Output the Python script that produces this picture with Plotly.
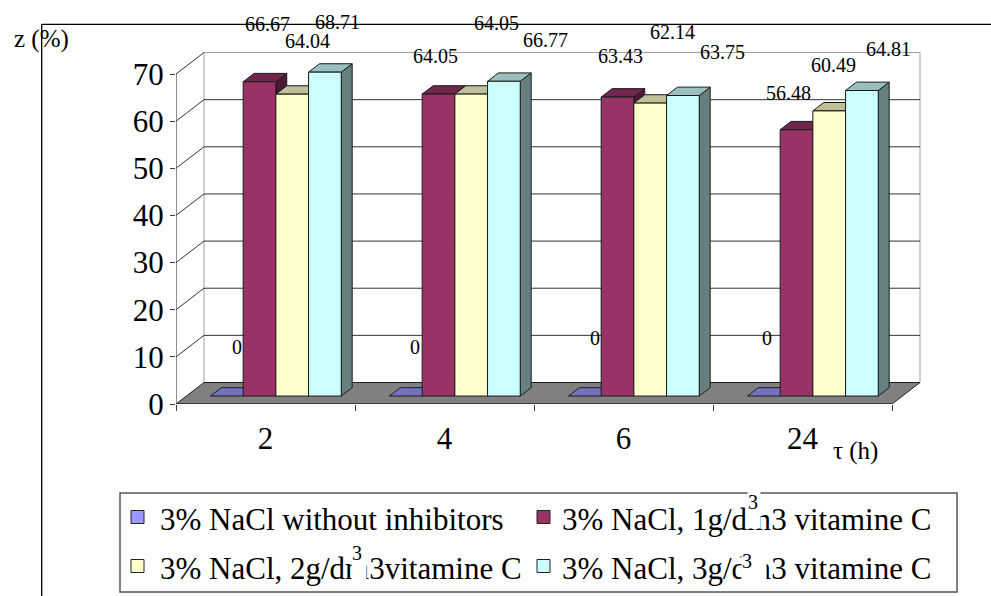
import plotly.graph_objects as go

# ---------------- data ----------------
categories = ["2", "4", "6", "24"]
series_names = [
    "3% NaCl without inhibitors",
    "3% NaCl, 1g/dm3 vitamine C",
    "3% NaCl, 2g/dm3vitamine C",
    "3% NaCl, 3g/dm3 vitamine C",
]
no_inhibitor = [0, 0, 0, 0]
vitc_1g = [66.67, 64.05, 63.43, 56.48]
vitc_2g = [64.04, 64.05, 62.14, 60.49]
vitc_3g = [68.71, 66.77, 63.75, 64.81]
y_tick_values = [0, 10, 20, 30, 40, 50, 60, 70]
y_axis_title = "z (%)"
x_axis_title = "τ (h)"

series = [no_inhibitor, vitc_1g, vitc_2g, vitc_3g]

# ---------------- style / geometry ----------------
W, H = 991, 596
M_L, M_R, M_T, M_B = 176, 66, 40, 192
PLOT_W = W - M_L - M_R
PLOT_H = H - M_T - M_B
PX_PER_CAT = 179.0
PX_PER_UNIT = 4.714
X_RANGE = [-0.5, -0.5 + PLOT_W / PX_PER_CAT]
Y_RANGE = [0, PLOT_H / PX_PER_UNIT]

DEPTH_DX = 28 / PX_PER_CAT
DEPTH_DY = 21.5 / PX_PER_UNIT
BAR_FRONT, BAR_BACK = 0.37, 0.76
BAR_W = 32.7 / PX_PER_CAT
Y_MAX = y_tick_values[-1]

FONT = "Liberation Serif, Times New Roman, serif"
front_colors = ["#9999FF", "#993366", "#FFFFCC", "#CCFFFF"]
top_colors = ["#7373BF", "#73264D", "#BFBF99", "#99BFBF"]
side_colors = ["#4D4D80", "#4D1A33", "#808066", "#668080"]
EDGE = "#1a1a1a"

# data-label offsets (px) relative to bar top-front centre, per series / category
label_shift = [
    [(10, -49), (9, -49), (10, -58), (3, -58)],
    [(8, -58), (-3, -38), (3, -41), (-8, -37)],
    [(15, -53), (25, -71), (22, -71), (4, -46)],
    [(13, -50), (42, -41), (40, -44), (27, -42)],
]


def px_x(px):
    return (px - M_L) / PLOT_W


def px_y(py):
    return (H - M_B - py) / PLOT_H


def polygon(xs, ys, fill):
    return go.Scatter(
        x=xs + [xs[0]], y=ys + [ys[0]], mode="lines", fill="toself",
        fillcolor=fill, line=dict(color=EDGE, width=1),
        hoverinfo="skip", showlegend=False,
    )


fig = go.Figure()
shapes = []
annotations = []

# ---------- walls & floor ----------
x0, x1 = -0.5, len(categories) - 0.5
bx0, bx1 = x0 + DEPTH_DX, x1 + DEPTH_DX
shapes.append(dict(type="rect", xref="x", yref="y", x0=bx0, x1=bx1,
                   y0=DEPTH_DY, y1=Y_MAX + DEPTH_DY, fillcolor="white",
                   line=dict(color="#A0A0A0", width=1), layer="below"))
for v in y_tick_values[1:]:
    col = "#A0A0A0" if v == Y_MAX else "#333333"
    shapes.append(dict(type="line", xref="x", yref="y", x0=bx0, x1=bx1,
                       y0=v + DEPTH_DY, y1=v + DEPTH_DY,
                       line=dict(color=col, width=1), layer="below"))
    shapes.append(dict(type="line", xref="x", yref="y", x0=x0, x1=bx0,
                       y0=v, y1=v + DEPTH_DY,
                       line=dict(color="#333333", width=1), layer="below"))
shapes.append(dict(type="path", xref="x", yref="y",
                   path=f"M {x0},0 L {x1},0 L {bx1},{DEPTH_DY} L {bx0},{DEPTH_DY} Z",
                   fillcolor="#808080", line=dict(color="#222222", width=1),
                   layer="below"))
shapes.append(dict(type="line", xref="x", yref="y", x0=x0, x1=x0, y0=0, y1=Y_MAX,
                   line=dict(color="#404040", width=1.2), layer="below"))
shapes.append(dict(type="line", xref="x", yref="y", x0=x0, x1=x1, y0=0, y1=0,
                   line=dict(color="#333333", width=1.5)))

# ---------- bars ----------
ddx = (BAR_BACK - BAR_FRONT) * DEPTH_DX
ddy = (BAR_BACK - BAR_FRONT) * DEPTH_DY
base = BAR_FRONT * DEPTH_DY
n_series = len(series)
for i, cat in enumerate(categories):
    for k, vals in enumerate(series):
        v = vals[i]
        xl = i + BAR_FRONT * DEPTH_DX + (k - n_series / 2) * BAR_W
        xr = xl + BAR_W
        y0, y1 = base, base + v
        if v > 0:
            fig.add_trace(polygon([xr, xr + ddx, xr + ddx, xr],
                                  [y0, y0 + ddy, y1 + ddy, y1], side_colors[k]))
        fig.add_trace(polygon([xl, xr, xr + ddx, xl + ddx],
                              [y1, y1, y1 + ddy, y1 + ddy], top_colors[k]))
        if v > 0:
            fig.add_trace(polygon([xl, xr, xr, xl], [y0, y0, y1, y1], front_colors[k]))
        sx, sy = label_shift[k][i]
        annotations.append(dict(
            x=(xl + xr) / 2, y=y1, xref="x", yref="y",
            text=f"{v:g}" if v else "0", showarrow=False,
            xshift=sx, yshift=-sy, xanchor="center", yanchor="middle",
            font=dict(family=FONT, size=20, color="black")))

# ---------- outer chart border (partial) ----------
shapes.append(dict(type="line", xref="paper", yref="paper",
                   x0=px_x(41.7), x1=px_x(991), y0=px_y(24.3), y1=px_y(24.3),
                   line=dict(color="black", width=1.3)))
shapes.append(dict(type="line", xref="paper", yref="paper",
                   x0=px_x(41.7), x1=px_x(41.7), y0=px_y(24.3), y1=px_y(596),
                   line=dict(color="black", width=1.3)))

# ---------- axis titles ----------
annotations.append(dict(x=px_x(41), y=px_y(39), xref="paper", yref="paper",
                        text=y_axis_title, showarrow=False,
                        xanchor="center", yanchor="middle",
                        font=dict(family=FONT, size=25, color="black")))
annotations.append(dict(x=px_x(855), y=px_y(451), xref="paper", yref="paper",
                        text=x_axis_title, showarrow=False,
                        xanchor="center", yanchor="middle",
                        font=dict(family=FONT, size=25, color="black")))

# ---------- legend (manual) ----------
shapes.append(dict(type="rect", xref="paper", yref="paper",
                   x0=px_x(120), x1=px_x(957), y0=px_y(493), y1=px_y(592),
                   fillcolor="white", line=dict(color="#555555", width=1.5)))
legend_pos = [(131, 158, 517), (537, 560, 517), (131, 158, 566), (537, 560, 566)]
for k, name in enumerate(series_names):
    sqx, tx, cy = legend_pos[k]
    shapes.append(dict(type="rect", xref="paper", yref="paper",
                       x0=px_x(sqx), x1=px_x(sqx + 13), y0=px_y(cy - 6.5),
                       y1=px_y(cy + 6.5), fillcolor=front_colors[k],
                       line=dict(color="#222222", width=1)))
    annotations.append(dict(x=px_x(tx), y=px_y(cy + 2), xref="paper", yref="paper",
                            text=name, showarrow=False, xanchor="left",
                            yanchor="middle",
                            font=dict(family=FONT, size=31, color="black")))
sup_boxes = [(747, 490, 12, 37), (351, 541, 14, 40), (741, 549, 24, 32)]
for bx, by, bw, bh in sup_boxes:
    annotations.append(dict(x=px_x(bx), y=px_y(by), xref="paper", yref="paper",
                            text="3", showarrow=False, xanchor="left", yanchor="top",
                            width=bw, height=bh, align="left", valign="top",
                            bgcolor="white", borderpad=0,
                            font=dict(family=FONT, size=20, color="black")))

fig.update_layout(
    width=W, height=H,
    margin=dict(l=M_L, r=M_R, t=M_T, b=M_B),
    paper_bgcolor="white", plot_bgcolor="white",
    showlegend=False,
    shapes=shapes, annotations=annotations,
    xaxis=dict(range=X_RANGE, showgrid=False, zeroline=False, showline=False,
               tickvals=list(range(len(categories))), ticktext=categories,
               ticks="", ticklabelstandoff=13,
               tickfont=dict(family=FONT, size=31, color="black"),
               minor=dict(tickvals=[i - 0.5 for i in range(len(categories) + 1)],
                          ticks="outside", ticklen=6, tickcolor="#404040",
                          tickwidth=1),
               fixedrange=True),
    yaxis=dict(range=Y_RANGE, showgrid=False, zeroline=False, showline=False,
               tickvals=y_tick_values, ticks="outside", ticklen=5,
               tickcolor="#404040", tickwidth=1, ticklabelstandoff=0,
               tickfont=dict(family=FONT, size=31, color="black"),
               fixedrange=True),
)

fig.write_html("out.html")
